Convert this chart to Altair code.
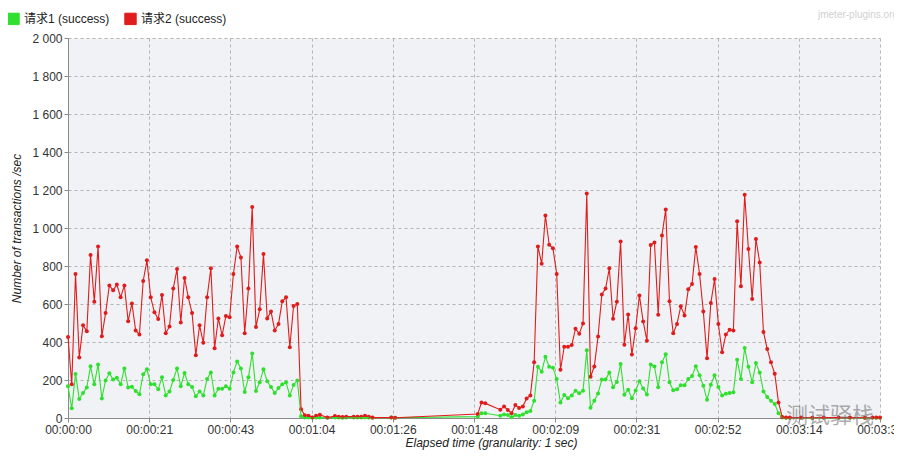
import altair as alt
import pandas as pd

series_names = ["请求1 (success)", "请求2 (success)"]
series_colors = ["#2fe02f", "#e01c1c"]

# seconds 0..61 (first busy phase)
seg1_seconds = list(range(0, 62))
req1_seg1 = [167, 51, 232, 100, 132, 161, 272, 177, 282, 103,
             198, 235, 203, 212, 177, 261, 160, 165, 142, 125,
             230, 256, 177, 177, 151, 214, 119, 140, 200, 261,
             167, 237, 177, 163, 114, 140, 119, 205, 240, 119,
             154, 154, 167, 154, 240, 298, 261, 137, 214, 340,
             142, 188, 256, 193, 163, 132, 158, 177, 188, 118,
             174, 198]
req2_seg1 = [426, 177, 758, 319, 488, 456, 858, 612, 903, 430,
             552, 698, 672, 702, 635, 698, 509, 603, 461, 440,
             721, 830, 635, 556, 521, 647, 446, 482, 682, 784,
             503, 737, 635, 552, 330, 488, 396, 635, 788, 367,
             524, 435, 537, 530, 758, 903, 845, 446, 682, 1110,
             479, 572, 863, 524, 561, 461, 495, 614, 635, 372,
             589, 600]

tail_seconds = ([62, 63, 64, 65, 66, 67, 69, 71, 72, 73, 74, 76, 77, 78, 79, 80, 81, 86, 87]
                + [109, 110, 111]
                + list(range(115, 191))
                + [191, 192, 195, 198, 201, 205, 208, 212, 214, 215, 216])
req1_tail = ([9, 2, 3, 2, 2, 3, 1, 2, 2, 1, 2, 2, 2, 2, 3, 2, 1, 2, 1]
             + [7, 25, 25]
             + [12, 19, 16, 4, 16, 12, 19, 30, 37, 91,
                270, 244, 323, 270, 265, 205, 81, 121, 104, 119,
                144, 130, 144, 356, 54, 91, 129, 202, 202, 240,
                162, 189, 284, 122, 149, 104, 145, 193, 155, 124,
                282, 271, 162, 293, 336, 188, 146, 151, 172, 172,
                205, 221, 272, 225, 170, 96, 175, 225, 163, 119,
                128, 132, 135, 307, 205, 368, 270, 188, 289, 240,
                140, 110, 91, 74, 25, 3]
             + [1, 1, 1, 0, 1, 1, 1, 0, 1, 1, 1])
req2_tail = ([46, 14, 12, 3, 12, 17, 2, 10, 7, 5, 7, 7, 7, 7, 12, 7, 2, 3, 1]
             + [21, 82, 77]
             + [44, 61, 42, 25, 68, 53, 61, 103, 119, 293,
                903, 812, 1066, 912, 893, 758, 254, 375, 375, 384,
                470, 444, 498, 1182, 217, 271, 429, 650, 681, 788,
                523, 612, 929, 386, 545, 334, 472, 645, 508, 407,
                910, 924, 543, 960, 1098, 614, 446, 495, 588, 540,
                677, 705, 900, 758, 561, 315, 605, 731, 495, 346,
                440, 465, 460, 1035, 693, 1175, 889, 626, 942, 819,
                453, 363, 293, 233, 82, 5]
             + [3, 2, 2, 1, 2, 3, 2, 1, 2, 3, 2])

x_tick_values = [0, 21.6, 43.2, 64.8, 86.4, 108, 129.6, 151.2, 172.8, 194.4, 216]
x_tick_labels = ["00:00:00", "00:00:21", "00:00:43", "00:01:04", "00:01:26", "00:01:48",
                 "00:02:09", "00:02:31", "00:02:52", "00:03:14", "00:03:36"]
y_tick_values = [0, 200, 400, 600, 800, 1000, 1200, 1400, 1600, 1800, 2000]

assert len(req1_seg1) == len(seg1_seconds) == len(req2_seg1)
assert len(req1_tail) == len(tail_seconds) == len(req2_tail)

seconds = seg1_seconds + tail_seconds
rows = []
for name, vals in zip(series_names, [req1_seg1 + req1_tail, req2_seg1 + req2_tail]):
    for s, v in zip(seconds, vals):
        rows.append({"t": s, "v": v, "series": name})
df = pd.DataFrame(rows)

FONT = "Liberation Sans, Noto Sans CJK SC, sans-serif"
label_expr = "[" + ",".join("'" + l + "'" for l in x_tick_labels) + "][round(datum.value/21.6)]"

x_enc = alt.X("t:Q", scale=alt.Scale(domain=[0, 216], nice=False, zero=False),
              axis=alt.Axis(values=x_tick_values, labelExpr=label_expr,
                            title="Elapsed time (granularity: 1 sec)",
                            titleX=423, titleY=19, titleBaseline="top",
                            titleFontStyle="italic", titleFontWeight="normal",
                            labelFlush=False, labelOverlap=False))
y_enc = alt.Y("v:Q", scale=alt.Scale(domain=[0, 2000], nice=False),
              axis=alt.Axis(values=y_tick_values,
                            labelExpr="replace(format(datum.value, ','), ',', ' ')",
                            title="Number of transactions /sec",
                            titleX=-52, titleY=190, titleAngle=-90,
                            titleAlign="center", titleBaseline="middle",
                            titleFontStyle="italic", titleFontWeight="normal"))
color_scale = alt.Scale(domain=series_names, range=series_colors)
legend = alt.Legend(title=None, orient="none", legendX=-61, legendY=-26,
                    direction="horizontal", symbolType="square",
                    symbolSize=130, symbolStrokeColor="#222222",
                    symbolStrokeWidth=1, symbolOpacity=1,
                    labelFontSize=12, labelFont=FONT, labelColor="#222222",
                    columnPadding=12, symbolOffset=0, labelOffset=4)

points = alt.Chart(df).mark_circle(size=16, opacity=1).encode(
    x=x_enc, y=y_enc,
    color=alt.Color("series:N", scale=color_scale, legend=legend),
)
lines = alt.Chart(df).mark_line(strokeWidth=1.1).encode(
    x=x_enc, y=y_enc,
    color=alt.Color("series:N", scale=color_scale, legend=legend),
    detail="series:N",
)

wm_df = pd.DataFrame({"txt": ["jmeter-plugins.org"]})
watermark = alt.Chart(wm_df).mark_text(align="left", baseline="middle", fontSize=10,
                                       color="#d0d0d0", font=FONT).encode(
    text="txt:N", x=alt.value(750), y=alt.value(-23))
wm2_df = pd.DataFrame({"txt": ["测试驿栈"]})
watermark2 = alt.Chart(wm2_df).mark_text(align="left", baseline="middle", fontSize=22,
                                         color="#777777", opacity=0.6,
                                         font="Noto Sans CJK SC").encode(
    text="txt:N", x=alt.value(718), y=alt.value(378))

chart = alt.layer(points, lines, watermark, watermark2).properties(
    width=812, height=380,
    autosize=alt.AutoSizeParams(type="none"),
    padding={"left": 60, "top": 30, "right": 14, "bottom": 33},
    background="white",
).configure_view(
    stroke="transparent", fill="#f1f2f6"
).configure_axis(
    labelFont=FONT, titleFont=FONT, labelFontSize=12, titleFontSize=12,
    labelColor="#333333", titleColor="#222222",
    domainColor="#8a8a8a", tickColor="#8a8a8a", tickSize=4,
    gridColor="#b5b5b5", gridDash=[3, 3], gridWidth=1,
)

chart.save("out.html", embed_options={"renderer": "svg", "actions": False})
